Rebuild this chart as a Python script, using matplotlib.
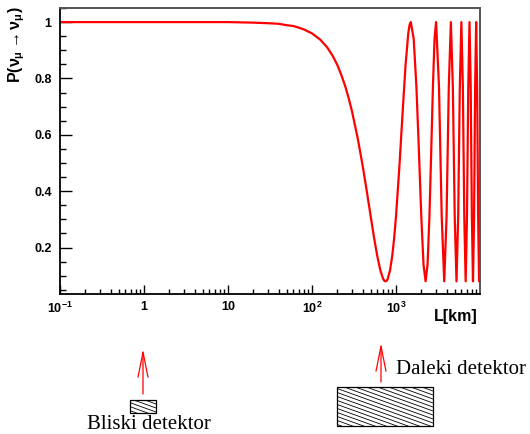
import matplotlib
matplotlib.use("Agg")
import matplotlib.pyplot as plt
from matplotlib.patches import Rectangle, FancyArrowPatch
from matplotlib.ticker import FixedLocator, MultipleLocator, LogLocator, NullFormatter

plt.rcParams["mathtext.fontset"] = "custom"
plt.rcParams["mathtext.rm"] = "Liberation Sans:bold"
plt.rcParams["mathtext.it"] = "Liberation Sans:bold"
plt.rcParams["mathtext.bf"] = "Liberation Sans:bold"

# survival probability of a muon neutrino versus baseline
L_KM = [0.1, 1, 10, 20, 30, 40, 50, 60, 70, 80, 100,
        125, 150, 175, 200, 225, 250, 275, 300, 350, 400, 450, 500, 550, 600,
        650, 700, 725, 750, 775, 800, 850, 900, 950, 1000, 1100, 1200, 1300, 1400, 1450, 1500,
        1625, 1750, 1875, 2000, 2125, 2250, 2375, 2500, 2625, 2750, 2875, 3000,
        3250, 3500, 3750, 4000, 4250, 4500, 4750, 5000, 5250, 5500, 5750, 6000,
        6250, 6500, 6750, 7000, 7250, 7500, 7750, 8000, 8250, 8500, 8750, 9000,
        9250, 9500, 9750, 10000]
P_SURV = [1.000, 1.000, 1.000, 0.998, 0.996, 0.994, 0.989, 0.986, 0.980, 0.974, 0.960,
          0.938, 0.912, 0.882, 0.848, 0.810, 0.770, 0.727, 0.682, 0.588, 0.492, 0.398, 0.310, 0.232, 0.168,
          0.120, 0.090, 0.082, 0.080, 0.082, 0.090, 0.120, 0.168, 0.232, 0.310, 0.492, 0.682, 0.848, 0.960, 0.990, 1.000,
          0.94, 0.77, 0.54, 0.31, 0.14, 0.08, 0.14, 0.31, 0.54, 0.77, 0.94, 1.00,
          0.77, 0.31, 0.08, 0.31, 0.77, 1.00, 0.77, 0.31, 0.08, 0.31, 0.77, 1.00,
          0.77, 0.31, 0.08, 0.31, 0.77, 1.00, 0.77, 0.31, 0.08, 0.31, 0.77, 1.00,
          0.77, 0.31, 0.08, 0.31]

X_TICKS = [0.1, 1, 10, 100, 1000]
X_TICK_LABELS = ["10$^{-1}$", "1", "10", "10$^{2}$", "10$^{3}$"]
Y_TICKS = [0.2, 0.4, 0.6, 0.8, 1.0]
Y_TICK_LABELS = ["0.2", "0.4", "0.6", "0.8", "1"]

W, H = 530, 434
fig = plt.figure(figsize=(W / 100, H / 100), dpi=100)
ax = fig.add_axes([60 / W, 1 - 294 / H, 420 / W, 286 / H])

ax.plot(L_KM, P_SURV, color="red", lw=1.6)

ax.set_xscale("log")
ax.set_xlim(0.1, 10000)
ax.set_ylim(0.035, 1.05)

tick_font = dict(family="Liberation Sans", weight="bold", size=9)
ax.xaxis.set_major_locator(FixedLocator(X_TICKS))
ax.set_xticklabels(X_TICK_LABELS, **tick_font)
ax.xaxis.set_minor_locator(LogLocator(base=10, subs=range(2, 10), numticks=20))
ax.xaxis.set_minor_formatter(NullFormatter())
ax.yaxis.set_major_locator(FixedLocator(Y_TICKS))
ax.set_yticklabels(Y_TICK_LABELS, **tick_font)
ax.yaxis.set_minor_locator(MultipleLocator(0.05))

ax.tick_params(which="both", direction="in", top=False, right=False, color="black", width=1.0)
ax.tick_params(axis="x", which="major", length=6.5, pad=5)
ax.tick_params(axis="x", which="minor", length=3.6)
ax.tick_params(axis="y", which="major", length=8.6, pad=6)
ax.tick_params(axis="y", which="minor", length=4.3)

for side in ("left", "bottom"):
    ax.spines[side].set_linewidth(1.3)
    ax.spines[side].set_color("black")
for side in ("top", "right"):
    ax.spines[side].set_linewidth(1.4)
    ax.spines[side].set_color("#555555")

label_font = dict(family="Liberation Sans", weight="bold", size=11.5)
fig.text(478 / W, 1 - 309 / H, "L[km]", ha="right", va="top", **label_font)
fig.text(6 / W, 1 - 6 / H, r"P($\nu_{\mu}$$\rightarrow$$\nu_{\mu}$)", rotation=90,
         ha="left", va="top", **label_font)

# detector sketch below the axis, in pixel coordinates
sk = fig.add_axes([0, 0, 1, 1], zorder=-1)
sk.set_xlim(0, W)
sk.set_ylim(H, 0)
sk.axis("off")


def hatched_box(x, y, w, h, slope=0.36, step=4.0):
    box = Rectangle((x, y), w, h, facecolor="white", edgecolor="black", lw=0.9)
    sk.add_patch(box)
    y0 = y - slope * w
    while y0 < y + h:
        line, = sk.plot([x, x + w], [y0, y0 + slope * w], color="black", lw=0.6)
        line.set_clip_path(box)
        y0 += step


hatched_box(130, 400, 26, 13)
hatched_box(337, 387, 96, 39)

for x0, y_tail, y_head in ((143, 394, 349), (381, 382, 343)):
    sk.add_patch(FancyArrowPatch((x0, y_tail), (x0, y_head),
                                 arrowstyle="->,head_length=18,head_width=3.6",
                                 color="red", lw=0.9, mutation_scale=1,
                                 shrinkA=0, shrinkB=0))

serif = dict(family="Liberation Serif", size=15)
sk.text(149, 429, "Bliski detektor", ha="center", va="baseline", **serif)
sk.text(396, 374, "Daleki detektor", ha="left", va="baseline", **serif)

fig.savefig("out.png", dpi=100)
